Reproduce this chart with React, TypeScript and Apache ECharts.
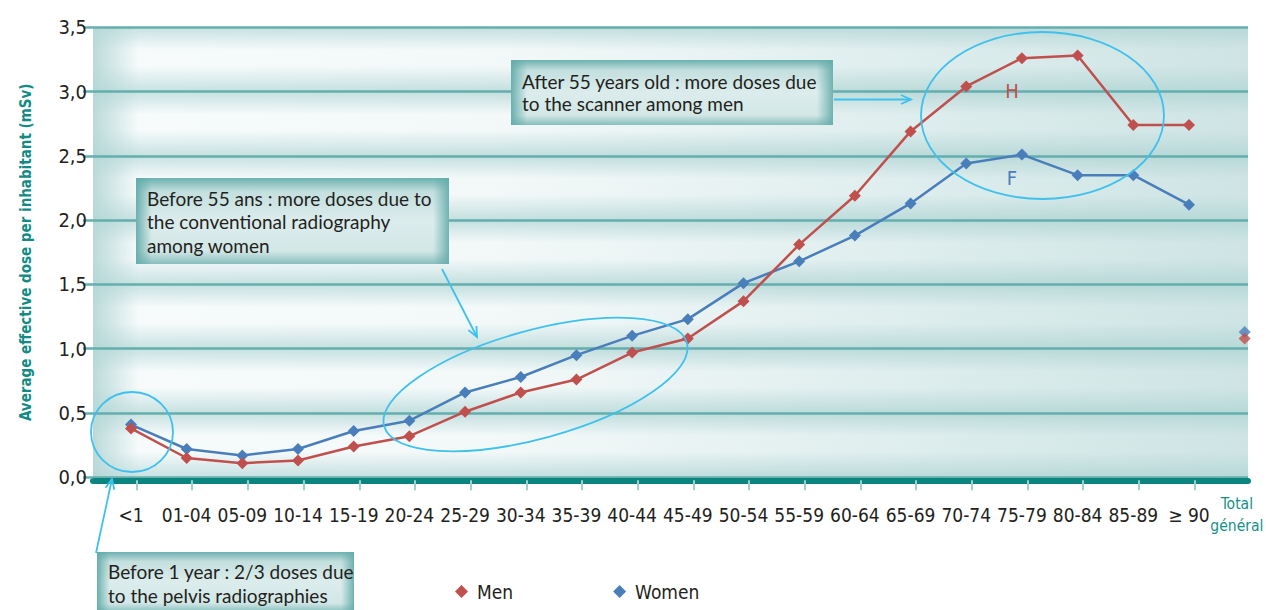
import React, { useEffect, useRef } from 'react';
import * as echarts from 'echarts';

const categories = ['<1', '01-04', '05-09', '10-14', '15-19', '20-24', '25-29', '30-34', '35-39', '40-44', '45-49', '50-54', '55-59', '60-64', '65-69', '70-74', '75-79', '80-84', '85-89', '≥ 90', 'Total général'];
const menValues = [0.38, 0.15, 0.11, 0.13, 0.24, 0.32, 0.51, 0.66, 0.76, 0.97, 1.08, 1.37, 1.81, 2.19, 2.69, 3.04, 3.26, 3.28, 2.74, 2.74];
const womenValues = [0.41, 0.22, 0.17, 0.22, 0.36, 0.44, 0.66, 0.78, 0.95, 1.10, 1.23, 1.51, 1.68, 1.88, 2.13, 2.44, 2.51, 2.35, 2.35, 2.12];
const menTotal = 1.08;
const womenTotal = 1.13;
const yMin = 0;
const yMax = 3.5;
const yStep = 0.5;

const NARROW = "'Liberation Sans Narrow', 'DejaVu Sans Condensed', sans-serif";
const HUMAN = "Lato, 'Open Sans', sans-serif";
const MEN = '#c0504d';
const WOMEN = '#4a7ebb';
const GRIDLINE = '#64aeae';
const CYAN = '#3ec1ec';
const TEXT = '#231f20';
const TEAL_TEXT = '#128b85';

function arrow(x1: number, y1: number, x2: number, y2: number) {
  const a = Math.atan2(y2 - y1, x2 - x1);
  const len = 10, half = 4.5;
  const bx = x2 - len * Math.cos(a), by = y2 - len * Math.sin(a);
  const px = -Math.sin(a) * half, py = Math.cos(a) * half;
  return [
    { type: 'line', z: 10, shape: { x1, y1, x2, y2 }, style: { stroke: CYAN, lineWidth: 1.8 } },
    { type: 'polyline', z: 10, shape: { points: [[bx + px, by + py], [x2, y2], [bx - px, by - py]] }, style: { stroke: CYAN, lineWidth: 1.8, fill: 'none' } },
  ];
}

function box(x: number, y: number, w: number, h: number, text: string, ty: number, lh: number) {
  return [
    {
      type: 'rect', z: 10, shape: { x, y, width: w, height: h },
      style: {
        fill: new echarts.graphic.LinearGradient(0, 0, 0, 1, [
          { offset: 0, color: '#6cb1b0' },
          { offset: 0.16, color: '#c3dfde' },
          { offset: 0.5, color: '#dcecec' },
          { offset: 0.85, color: '#d2e7e6' },
          { offset: 1, color: '#86bebd' },
        ]),
      },
    },
    {
      type: 'rect', z: 10, shape: { x, y, width: w, height: h },
      style: {
        fill: new echarts.graphic.LinearGradient(0, 0, 1, 0, [
          { offset: 0, color: 'rgba(100,172,171,0.95)' },
          { offset: 0.05, color: 'rgba(100,172,171,0)' },
          { offset: 0.95, color: 'rgba(100,172,171,0)' },
          { offset: 1, color: 'rgba(100,172,171,0.9)' },
        ]),
      },
    },
    {
      type: 'text', z: 11, x: x + 11, y: ty,
      style: { text, fill: TEXT, font: `19px ${HUMAN}`, lineHeight: lh, verticalAlign: 'top', align: 'left' },
    },
  ];
}

export default function App() {
  const ref = useRef<HTMLDivElement>(null);
  useEffect(() => {
    document.body.style.margin = '0';
    const chart = echarts.init(ref.current!, null, { renderer: 'svg' });
    const bandGrad = new echarts.graphic.LinearGradient(0, 0, 0, 1, [
      { offset: 0, color: 'rgba(255,255,255,0)' },
      { offset: 0.35, color: 'rgba(255,255,255,0.85)' },
      { offset: 0.6, color: 'rgba(255,255,255,0.85)' },
      { offset: 1, color: 'rgba(255,255,255,0)' },
    ]);
    const last = categories.length - 1;
    const tickVals = menValues.map((_, i) => i + 0.1);
    const labelVals = categories.map((_, i) => (i === last ? i - 0.14 : i));
    const option: any = {
      animation: false,
      grid: {
        left: 93, right: 18, top: 27.3, bottom: 132.7, show: true, borderWidth: 0,
        containLabel: false, outerBoundsMode: 'none',
        backgroundColor: new echarts.graphic.LinearGradient(0, 0, 1, 0, [
          { offset: 0, color: '#c8e2e2' },
          { offset: 1, color: '#bcdada' },
        ]),
      },
      legend: {
        data: ['Men', 'Women'], left: 450, top: 577, icon: 'diamond', itemWidth: 13, itemHeight: 13,
        itemGap: 100,
        textStyle: { fontFamily: NARROW, fontSize: 19, color: TEXT, padding: [0, 0, 0, 4] },
      },
      xAxis: {
        type: 'value', min: -0.682, max: 20.06, z: 1.5, offset: 3,
        axisLine: { show: true, onZero: false, lineStyle: { color: '#0b857f', width: 6 } },
        axisTick: { show: true, length: 10, customValues: tickVals, lineStyle: { color: '#9fcfcf', width: 2 } },
        axisLabel: {
          customValues: labelVals, margin: 35, verticalAlign: 'middle',
          hideOverlap: false,
          fontFamily: NARROW, fontSize: 19, color: TEXT,
          formatter: (v: number) => {
            const i = Math.round(v);
            if (i === last) {
              const parts = categories[i].split(' ');
              return `{t|${parts[0]}}\n{t|${parts[1]}}`;
            }
            return categories[i] ?? '';
          },
          rich: { t: { color: '#149089', fontFamily: NARROW, fontSize: 15.5, lineHeight: 22 } },
        },
        splitLine: { show: false },
      },
      yAxis: [
        {
          type: 'value', min: yMin, max: yMax, interval: yStep, z: 0,
          axisLine: { show: false }, axisTick: { show: false }, axisLabel: { show: false },
          splitLine: { show: false },
          splitArea: { show: true, areaStyle: { color: [bandGrad] } },
        },
        {
          type: 'value', min: yMin, max: yMax, interval: yStep, z: 1.5, position: 'left',
          axisLine: { show: false },
          axisTick: { show: true, length: 10, lineStyle: { color: GRIDLINE, width: 2.5 } },
          axisLabel: {
            margin: 6, fontFamily: NARROW, fontSize: 20, color: TEXT,
            formatter: (v: number) => v.toFixed(1).replace('.', ','),
          },
          splitLine: { show: true, lineStyle: { color: GRIDLINE, width: 2.5 } },
          name: 'Average effective dose per inhabitant (mSv)',
          nameLocation: 'middle', nameRotate: 90, nameGap: 60,
          nameTextStyle: { color: TEAL_TEXT, fontFamily: NARROW, fontSize: 15, fontWeight: 'bold' },
        },
      ],
      series: [
        {
          name: 'Women', type: 'line', z: 3, data: womenValues.map((v, i) => [i, v]),
          symbol: 'diamond', symbolSize: 12, lineStyle: { color: WOMEN, width: 2.5 }, itemStyle: { color: WOMEN },
        },
        {
          name: 'Men', type: 'line', z: 4, data: menValues.map((v, i) => [i, v]),
          symbol: 'diamond', symbolSize: 12, lineStyle: { color: MEN, width: 2.5 }, itemStyle: { color: MEN },
        },
        {
          name: 'Women total', type: 'scatter', z: 3, clip: false, data: [[last, womenTotal]],
          symbol: 'diamond', symbolSize: 12, itemStyle: { color: WOMEN },
        },
        {
          name: 'Men total', type: 'scatter', z: 4, clip: false, data: [[last, menTotal]],
          symbol: 'diamond', symbolSize: 12, itemStyle: { color: MEN },
        },
      ],
      graphic: [
        {
          type: 'rect', z: 1, silent: true, shape: { x: 93, y: 27.3, width: 1155, height: 450 },
          style: {
            fill: new echarts.graphic.LinearGradient(0, 0, 1, 0, [
              { offset: 0, color: 'rgba(180,214,214,0.9)' },
              { offset: 0.04, color: 'rgba(180,214,214,0)' },
              { offset: 0.35, color: 'rgba(180,214,214,0.05)' },
              { offset: 1, color: 'rgba(180,214,214,0.6)' },
            ]),
          },
        },
        { type: 'ellipse', z: 10, x: 132, y: 432, shape: { cx: 0, cy: 0, rx: 41, ry: 40 }, style: { fill: 'none', stroke: CYAN, lineWidth: 1.8 } },
        { type: 'ellipse', z: 10, x: 535.5, y: 384.5, rotation: 0.269, shape: { cx: 0, cy: 0, rx: 157, ry: 54 }, style: { fill: 'none', stroke: CYAN, lineWidth: 1.8 } },
        { type: 'ellipse', z: 10, x: 1042.5, y: 115.5, shape: { cx: 0, cy: 0, rx: 121.5, ry: 83.5 }, style: { fill: 'none', stroke: CYAN, lineWidth: 1.8 } },
        { type: 'text', z: 10, x: 1012, y: 91, style: { text: 'H', fill: MEN, font: `20px ${NARROW}`, align: 'center', verticalAlign: 'middle' } },
        { type: 'text', z: 10, x: 1012, y: 178, style: { text: 'F', fill: WOMEN, font: `20px ${NARROW}`, align: 'center', verticalAlign: 'middle' } },
        ...box(511, 60, 322, 65, 'After 55 years old : more doses due\nto the scanner among men', 70, 22.5),
        ...box(136, 178, 313, 86, 'Before 55 ans : more doses due to\nthe conventional radiography\namong women', 186.5, 23.5),
        ...box(97, 552, 257, 60, 'Before 1 year : 2/3 doses due\nto the pelvis radiographies', 559, 24),
        ...arrow(834, 99.5, 911, 99.5),
        ...arrow(442, 269, 477, 337),
        ...arrow(96, 553, 112, 479),
      ],
    };
    chart.setOption(option);
    return () => chart.dispose();
  }, []);
  return <div ref={ref} style={{ width: 1266, height: 610 }} />;
}
